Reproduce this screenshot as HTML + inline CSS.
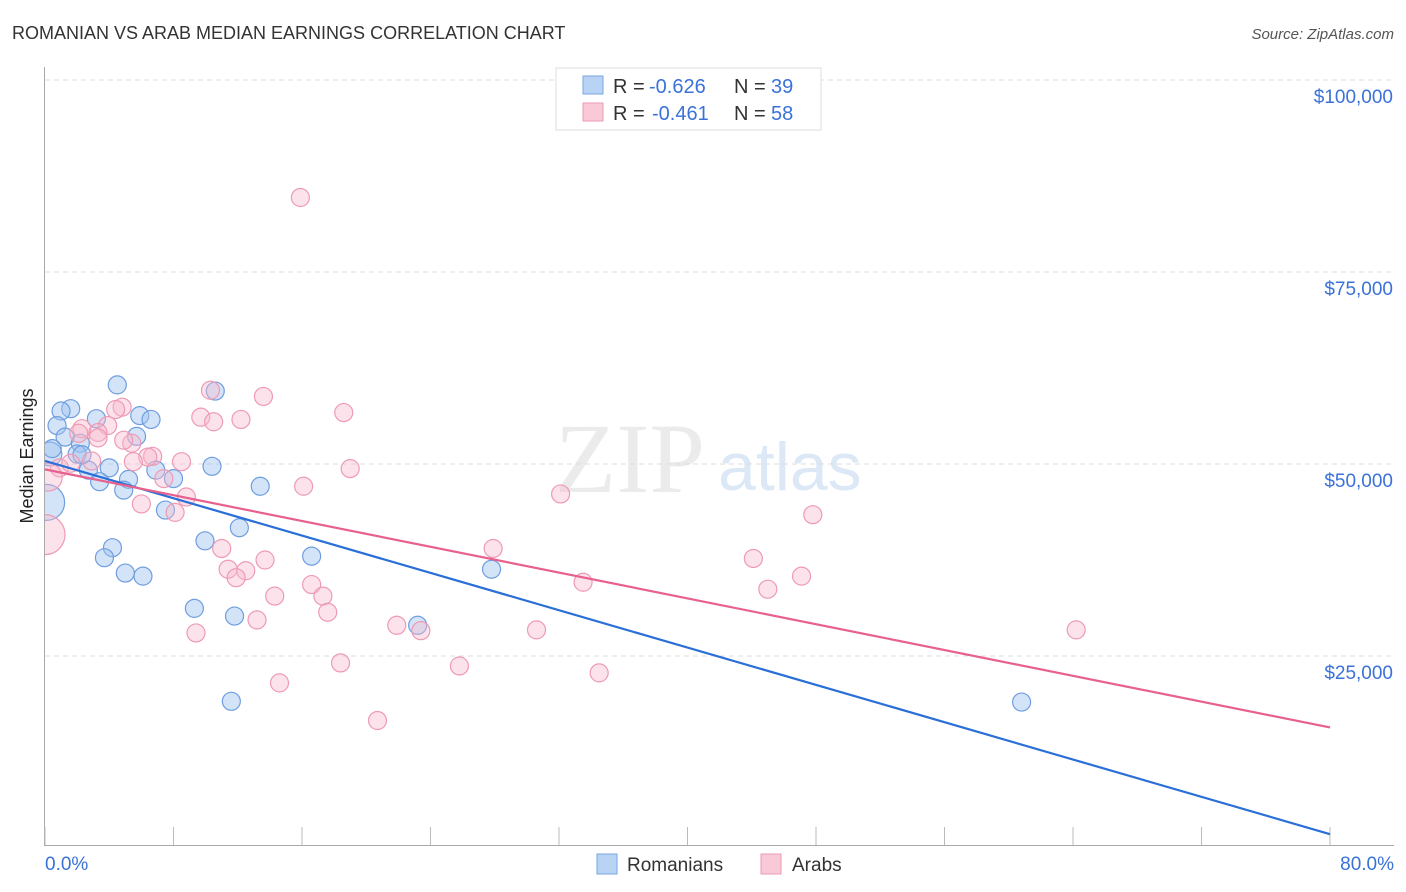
<!DOCTYPE html>
<html><head><meta charset="utf-8"><style>
body{margin:0;background:#fff;font-family:"Liberation Sans",sans-serif;}
svg{display:block}
</style></head><body>
<svg id="chart" width="1406" height="892">
<defs><clipPath id="plotclip"><rect x="45" y="60" width="1360" height="786"/></clipPath></defs>
<text x="12" y="39" font-size="18" fill="#333">ROMANIAN VS ARAB MEDIAN EARNINGS CORRELATION CHART</text>
<text x="1394" y="39" font-size="15" fill="#555" font-style="italic" text-anchor="end">Source: ZipAtlas.com</text>
<text x="33" y="456" font-size="18" fill="#222" text-anchor="middle" transform="rotate(-90 33 456)">Median Earnings</text>
<text x="555" y="492" font-size="100" fill="#ebebeb" font-family="Liberation Serif,serif">ZIP</text>
<text x="718" y="490" font-size="68" fill="#dde8f7">atlas</text>
<g id="grid"></g>
<g id="axes"></g>
<g id="pts" clip-path="url(#plotclip)"></g>
<g id="lines"></g>
<g>
<rect x="556" y="68" width="265" height="62" fill="#fff" stroke="#ddd"/>
<rect x="583" y="76" width="20" height="18" fill="#b9d3f5" stroke="#7aa6e3"/>
<text x="613" y="93" font-size="20" fill="#333">R =</text>
<text x="649" y="93" font-size="20" fill="#3a72d8">-0.626</text>
<text x="734" y="93" font-size="20" fill="#333">N =</text>
<text x="771" y="93" font-size="20" fill="#3a72d8">39</text>
<rect x="583" y="103" width="20" height="18" fill="#f9c9d7" stroke="#ec9ab4"/>
<text x="613" y="120" font-size="20" fill="#333">R =</text>
<text x="652" y="120" font-size="20" fill="#3a72d8">-0.461</text>
<text x="734" y="120" font-size="20" fill="#333">N =</text>
<text x="771" y="120" font-size="20" fill="#3a72d8">58</text>
</g>
<g>
<rect x="597" y="854" width="20" height="20" fill="#b9d3f5" stroke="#7aa6e3"/>
<text x="627" y="871" font-size="19" fill="#333">Romanians</text>
<rect x="761" y="854" width="20" height="20" fill="#f9c9d7" stroke="#ec9ab4"/>
<text x="792" y="871" font-size="19" fill="#333">Arabs</text>
</g>
</svg>
<script>
const yTicks=[25000,50000,75000,100000];
const yTickLabels=["$25,000","$50,000","$75,000","$100,000"];
const xTickLabels=["0.0%","80.0%"];
const romX=[4.5,1.6,1,0.75,3.2,5.9,6.6,1.25,5.7,2.2,2,0.3,2.7,4,6.9,8,3.4,5.2,4.9,10.4,13.4,10.6,7.5,0.1,9.96,12.1,4.2,3.7,5,6.1,9.3,11.8,16.6,27.8,23.2,11.6,60.8,2.3,0.45];
const romY=[60300,57200,56900,55000,55900,56300,55800,53500,53600,52700,51300,51300,49200,49500,49200,48100,47700,48000,46600,49700,47100,59500,44000,45000,40000,41700,39100,37800,35800,35400,31200,30200,38000,36300,29000,19100,19000,51200,52000];
const romR=[9,9,9,9,9,9,9,9,9,9,9,12,9,9,9,9,9,9,9,9,9,9,9,18,9,9,9,9,9,9,9,9,9,9,9,9,9,9,9];
const arX=[15.9,10.3,13.6,18.6,4.8,4.4,9.7,10.5,12.2,3.9,2.3,3.3,2.1,5.4,4.9,6.7,6.4,5.5,0.9,8.5,19,3.3,7.4,16.1,8.8,6,8.1,32.1,47.8,0.2,0,27.9,11,13.7,11.4,12.5,11.9,44.1,47.1,33.5,16.6,17.3,45,14.3,17.6,13.2,9.4,21.9,23.4,30.6,64.2,18.4,25.8,34.5,14.6,20.7,2.9,1.6];
const arY=[84700,59600,58800,56700,57400,57100,56100,55500,55800,55000,54600,54100,54000,52700,53100,51000,50900,50300,49500,50300,49400,53400,48100,47100,45700,44800,43700,46100,43400,48300,40800,39000,39000,37500,36300,36100,35200,37700,35400,34600,34300,32800,33700,32800,30700,29700,28000,29000,28300,28400,28400,24100,23700,22800,21500,16600,50400,50100];
const arR=[9,9,9,9,9,9,9,9,9,9,9,9,9,9,9,9,9,9,9,9,9,9,9,9,9,9,9,9,9,14,20,9,9,9,9,9,9,9,9,9,9,9,9,9,9,9,9,9,9,9,9,9,9,9,9,9,9,9];
const romLine=[50400,1800];
const arLine=[49300,15700];
const X0=45,X1=1330,Y0=848;
const xs=p=>X0+p*(X1-X0)/80;
const ys=v=>Y0-v*192/25000;
const NS="http://www.w3.org/2000/svg";
function mk(t,a,p){const e=document.createElementNS(NS,t);for(const k in a)e.setAttribute(k,a[k]);p.appendChild(e);return e;}
const grid=document.getElementById('grid'),axes=document.getElementById('axes'),pts=document.getElementById('pts'),lines=document.getElementById('lines');
yTicks.forEach((v,i)=>{
 const l=mk('line',{x1:45,x2:1394,y1:ys(v),y2:ys(v),stroke:'#ddd','stroke-dasharray':'5,4'},grid);
 
 
 const t=mk('text',{x:1393,y:ys(v)+23,'font-size':19,fill:'#3a72d8','text-anchor':'end'},grid);
 t.textContent=yTickLabels[i];
 
 
});
const ya=mk('line',{x1:44.5,x2:44.5,y1:67,y2:846,stroke:'#aaa'},axes);


const xa=mk('line',{x1:44,x2:1394,y1:845.5,y2:845.5,stroke:'#aaa'},axes);


for(let i=0;i<=10;i++){
 const tk=mk('line',{x1:xs(i*8),x2:xs(i*8),y1:827,y2:845,stroke:'#bbb'},axes);
 
 
}
[[0,'start',45],[80,'end',1394]].forEach((d,i)=>{
 const t=mk('text',{x:d[2],y:870,'font-size':19,fill:'#3a72d8','text-anchor':d[1]},axes);
 t.textContent=xTickLabels[i];
 
 
});
romX.forEach((x,i)=>{
 const c=mk('circle',{cx:xs(x),cy:ys(romY[i]),r:romR[i],fill:'rgba(160,196,240,0.45)',stroke:'#6e9de0','stroke-width':1.2},pts);
 
 
});
arX.forEach((x,i)=>{
 const c=mk('circle',{cx:xs(x),cy:ys(arY[i]),r:arR[i],fill:'rgba(247,185,204,0.4)',stroke:'#ee9ab5','stroke-width':1.2},pts);
 
 
});
const bl=mk('line',{x1:xs(0),y1:ys(romLine[0]),x2:xs(80),y2:ys(romLine[1]),stroke:'#2a6fd8','stroke-width':2.2},lines);


const pl=mk('line',{x1:xs(0),y1:ys(arLine[0]),x2:xs(80),y2:ys(arLine[1]),stroke:'#e8608c','stroke-width':2.2},lines);


</script>
</body></html>
